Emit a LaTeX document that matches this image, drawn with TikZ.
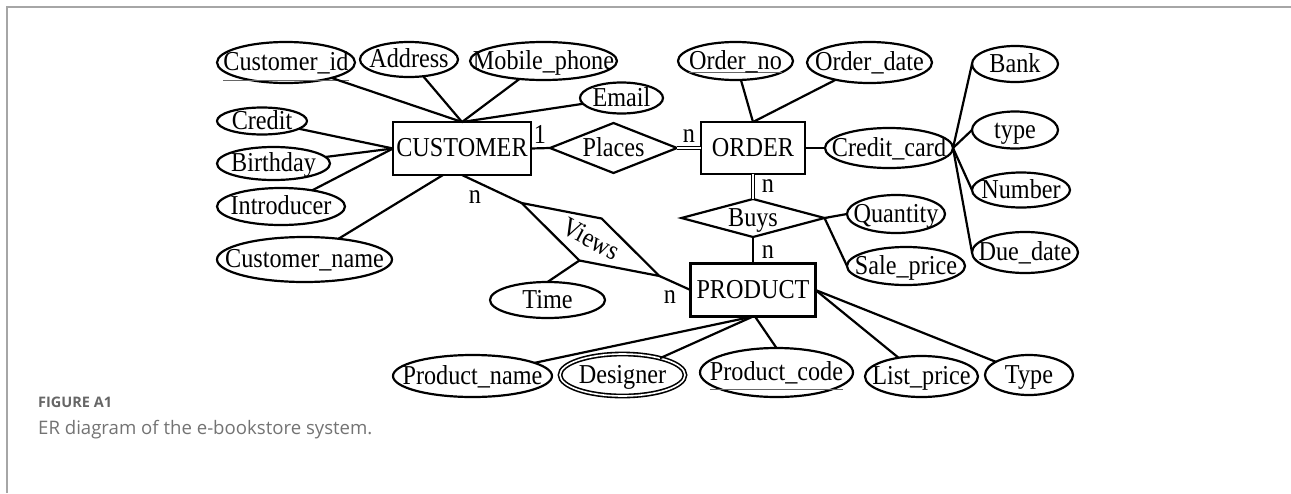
\documentclass[tikz,border=0pt]{standalone}
\usepackage{fontspec}
\setmainfont{Liberation Serif}
\newfontfamily\capfont{Open Sans}
\usetikzlibrary{shapes.geometric}

% glyphs drawn a little taller than the plain font
\newcommand\tall[1]{\scalebox{1}[1.13]{#1}}
% label text of zero size, baseline set a little below the shape centre
\newcommand\tx[1]{\makebox[0pt]{\raisebox{-8pt}[0pt][0pt]{\tall{#1}}}}
% key attribute: thin underline #1 below the baseline
\newcommand\keyul[2]{\setbox0\hbox{#2}\rlap{\raisebox{-#1}[0pt][0pt]{\color{black!60}\rule{\wd0}{0.75pt}}}\box0}

\tikzset{
  erbase/.style={draw, line width=2.2pt, inner sep=0pt, outer sep=0pt,
    font=\fontsize{24.2}{28}\selectfont},
  entity/.style={erbase, rectangle},
  relation/.style={erbase, diamond},
  attr/.style={erbase, ellipse},
  multi/.style={erbase, ellipse, double, line width=1.6pt, double distance=1.6pt},
  sz/.style 2 args={minimum width=#1pt, minimum height=#2pt},
  link/.style={line width=2.2pt},
  dlink/.style={double, line width=1.6pt, double distance=1.6pt},
  card/.style={inner sep=0pt, anchor=base, font=\fontsize{24.2}{28}\selectfont},
}

\begin{document}
\begin{tikzpicture}[x=1pt, y=-1pt]
\useasboundingbox (0,0) rectangle (1291,493);
\draw[black!35, line width=2pt] (7,493) -- (7,7) -- (1291,7);

% entities
\node[entity, sz={138}{53}] (cust) at (462,148.5) {\tx{CUSTOMER}};
\node[entity, sz={104}{52}] (ord)  at (753,148)   {\tx{ORDER}};
\node[entity, sz={125}{53}] (prod) at (753,290)   {\tx{PRODUCT}};

% relationships
\node[relation, sz={127}{50}] (places) at (613.5,148) {\tx{Places}};
\node[relation, sz={143}{38}] (buys)   at (753,218)   {\tx{Buys}};
\node[relation, sz={156}{47.5}, rotate=-27.9] (views) at (590.5,239.5) {\tx{Views}};

% customer attributes
\node[attr, sz={138}{41}] (cid)    at (286,62.5)   {\tx{\keyul{9.5pt}{Customer\_id}}};
\node[attr, sz={98}{35}]  (addr)   at (409,59.5)   {\tx{Address}};
\node[attr, sz={147}{38}] (mob)    at (543.5,61)   {\tx{Mobile\_phone}};
\node[attr, sz={83}{31}]  (email)  at (621.5,98)   {\tx{Email}};
\node[attr, sz={90}{27}]  (credit) at (262,121)    {\tx{Credit}};
\node[attr, sz={113}{33}] (bday)   at (273.5,163.5){\tx{Birthday}};
\node[attr, sz={128}{37}] (intro)  at (281,206.5)  {\tx{Introducer}};
\node[attr, sz={175}{45}] (cname)  at (304.5,259.5){\tx{Customer\_name}};

% order attributes
\node[attr, sz={115}{38}] (ono)   at (735.5,61)   {\tx{\keyul{3.5pt}{Order\_no}}};
\node[attr, sz={125}{41}] (odate) at (869.5,62.5) {\tx{Order\_date}};
\node[attr, sz={128}{40}] (ccard) at (889,148)    {\tx{Credit\_card}};
\node[attr, sz={86}{36}]  (bank)  at (1015,64)    {\tx{Bank}};
\node[attr, sz={86}{37}]  (ctype) at (1015,130)   {\tx{type}};
\node[attr, sz={98}{35}]  (num)   at (1021,190)   {\tx{Number}};
\node[attr, sz={106}{41}] (due)   at (1025,252.5) {\tx{Due\_date}};

% relationship attributes
\node[attr, sz={98}{38}]  (qty)  at (896,214)   {\tx{Quantity}};
\node[attr, sz={118}{38}] (sale) at (906,266)   {\tx{Sale\_price}};
\node[attr, sz={115}{36}] (time) at (547.5,300) {\tx{Time}};

% product attributes
\node[attr,  sz={159}{42}] (pname)  at (472.5,376)   {\tx{Product\_name}};
\node[multi, sz={125}{42}] (design) at (622.5,375)   {\tx{Designer}};
\node[attr,  sz={153}{49}] (pcode)  at (776.5,372.5) {\tx{\keyul{8.5pt}{Product\_code}}};
\node[attr,  sz={113}{41}] (lprice) at (921.5,376.5) {\tx{List\_price}};
\node[attr,  sz={88}{40}]  (ptype)  at (1029,375)    {\tx{Type}};

% cardinalities
\node[card] (k1) at (540,143) {\tall{1}};
\node[card] (k2) at (689,142) {\tall{n}};
\node[card] (k3) at (768,192) {\tall{n}};
\node[card] (k4) at (768,258) {\tall{n}};
\node[card] (k5) at (475,203) {\tall{n}};
\node[card] (k6) at (670,303) {\tall{n}};

% customer links
\draw[link] (cust.north) -- (cid);
\draw[link] (cust.north) -- (addr);
\draw[link] (cust.north) -- (mob);
\draw[link] (cust.north) -- (email);
\draw[link] (cust.west) -- (credit);
\draw[link] (cust.west) -- (bday);
\draw[link] (cust.west) -- (intro);
\draw[link] ([xshift=-19pt]cust.south) -- (cname);
\draw[link] (cust.east) -- (places.west);
\draw[link] (cust.south) -- (views.west);

% order links
\draw[dlink] (places.east) -- (ord.west);
\draw[link] (ord.north) -- (ono);
\draw[link] (ord.north) -- (odate);
\draw[link] (ord.east) -- (ccard.west);
\draw[link] (ccard.east) -- (bank.west);
\draw[link] (ccard.east) -- (ctype.west);
\draw[link] (ccard.east) -- (num.west);
\draw[link] (ccard.east) -- (due.west);
\draw[dlink] (ord.south) -- (buys.north);

% buys / views links
\draw[link] (buys.east) -- (qty.west);
\draw[link] (buys.east) -- (sale.west);
\draw[link] (buys.south) -- (prod.north);
\draw[link] (views.south) -- (time.north);
\draw[link] (views.east) -- (prod.west);

% product links
\draw[link] (prod.south) -- (pname);
\draw[link] (prod.south) -- (design);
\draw[link] ([xshift=2pt]prod.south) -- (pcode.north);
\draw[link] (prod.east) -- (lprice);
\draw[link] (prod.east) -- (ptype);

% caption
\node[anchor=base west, inner sep=0pt, text=black!60,
  font=\capfont\bfseries\fontsize{14.5}{17}\selectfont] (figlabel) at (38,407) {FIGURE A1};
\node[anchor=base west, inner sep=0pt, text=black!55,
  font=\capfont\fontsize{18.6}{22}\selectfont] (figcap) at (38,434) {ER diagram of the e-bookstore system.};
\end{tikzpicture}
\end{document}
